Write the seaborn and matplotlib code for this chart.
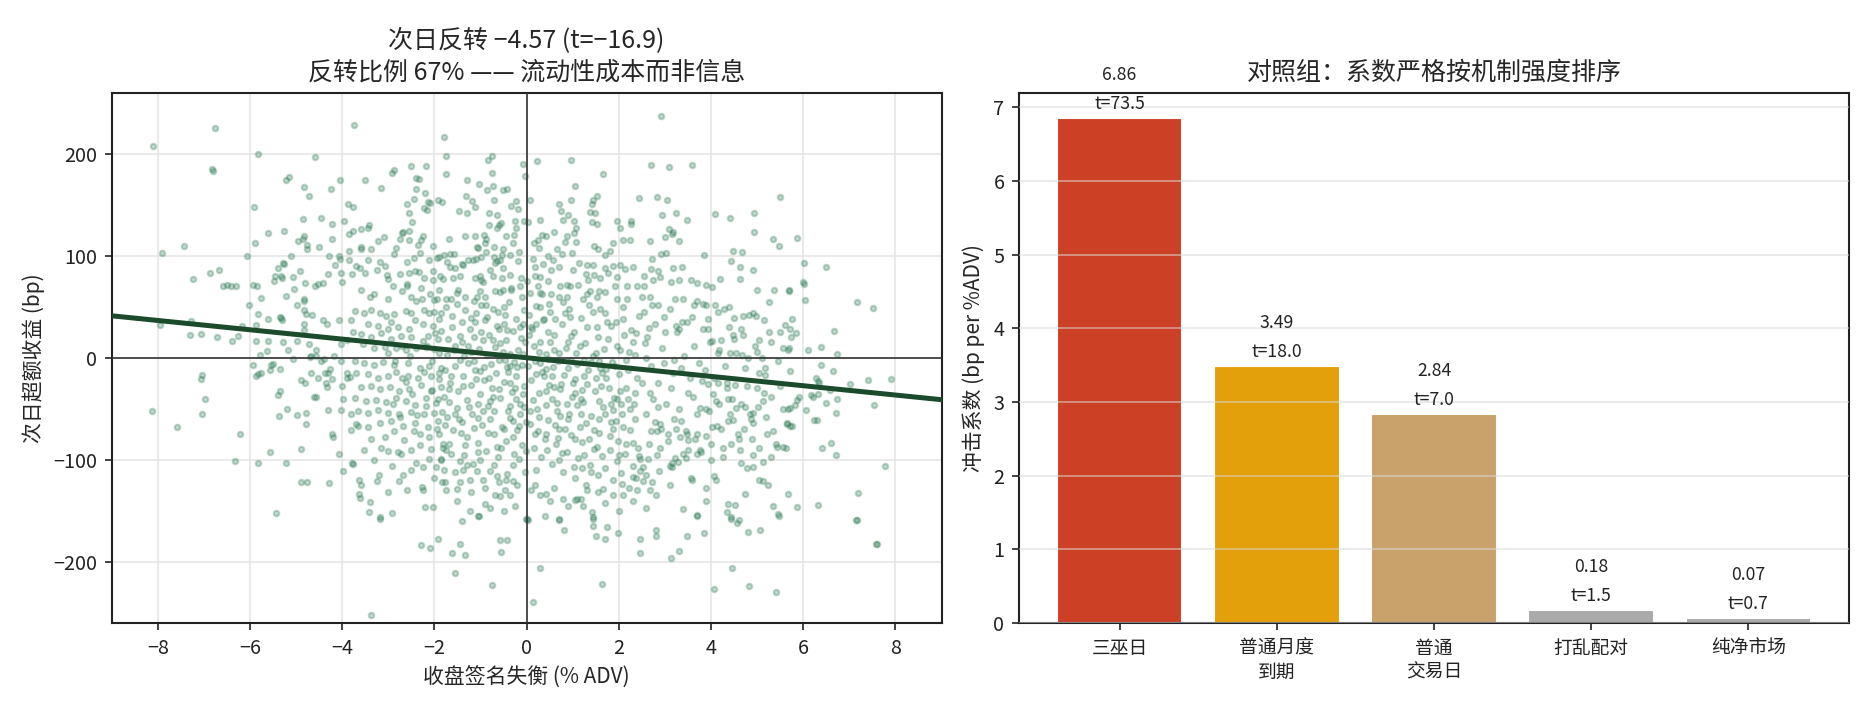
import matplotlib
matplotlib.use("Agg")
import matplotlib.pyplot as plt
import seaborn as sns
import numpy as np
import pandas as pd

# ---------------- data ----------------
# scatter: closing signed imbalance (% ADV) vs next-day excess return (bp)
scatter_points = [
    # upper-left region
    (-8.11,208),(-6.76,225),(-6.83,185),(-6.81,183),(-5.83,200),(-3.75,228),(-4.58,197),(-7.91,103),(-7.44,110),
    (-7.24,77),(-6.87,83),(-6.68,86),(-6.59,70),(-6.50,71),(-6.41,70),(-6.31,70),(-5.94,71),(-5.85,70),(-5.92,148),
    (-5.90,112),(-6.07,100),(-5.61,122),(-5.27,124),(-5.22,174),(-5.15,177),(-4.82,167),(-4.72,159),(-4.25,165),
    (-4.05,174),(-3.51,174),(-3.15,166),(-2.92,181),(-2.88,184),(-2.51,188),(-2.19,188),(-2.40,176),(-2.34,175),
    (-2.39,165),(-2.20,161),(-2.60,151),(-2.45,156),(-3.88,151),(-3.77,148),(-4.85,136),(-4.46,137),(-4.23,131),
    (-3.97,134),(-3.42,130),(-3.59,126),(-3.44,127),(-3.77,124),(-3.86,121),(-4.23,116),(-4.96,114),(-4.86,116),
    (-4.83,119),(-4.76,111),(-4.76,107),(-4.51,109),(-3.86,105),(-3.60,109),(-3.59,107),(-3.38,107),(-3.22,114),
    (-3.10,118),(-2.71,122),(-2.69,123),(-2.55,124),(-2.48,133),(-2.55,142),(-2.14,153),(-2.10,152),(-2.22,147),
    (-2.17,145),(-1.93,155),(-1.84,153),(-2.25,119),(-2.30,115),(-2.35,111),(-2.55,115),(-2.75,116),(-2.83,108),
    (-2.87,102),(-2.60,94),(-2.45,98),(-2.32,103),(-2.12,96),(-2.02,110),(-1.95,98),(-1.89,99),(-2.03,85),
    (-2.04,76),(-2.22,78),(-2.42,85),(-2.34,84),(-2.56,83),(-2.74,82),(-3.03,81),(-3.01,77),(-3.08,90),(-3.17,94),
    (-3.24,86),(-3.44,96),(-3.50,83),(-3.61,88),(-3.70,90),(-3.79,82),(-4.02,83),(-4.01,74),(-3.85,96),(-4.05,97),
    (-4.07,100),(-4.28,100),(-4.15,91),(-4.31,82),(-4.41,73),(-4.53,72),(-4.59,70),(-4.80,73),(-4.91,85),
    (-5.06,79),(-5.29,93),(-5.27,92),(-5.40,88),(-5.45,80),(-5.32,80),(-5.47,75),(-5.31,78),(-5.11,100),
    (-5.05,67),(-5.22,61),(-4.82,58),(-5.75,59),
    (-3.3,62),(-3.0,58),(-2.7,65),(-2.5,60),(-2.3,68),(-2.1,62),(-1.9,66),(-2.9,70),(-3.6,66),(-2.6,72),(-2.0,57),(-2.4,56),
    # upper-right region
    (2.91,237),(-1.79,216),(-1.75,198),(-1.75,180),(-0.83,194),(-0.74,198),(-0.74,181),(-0.07,190),(-0.04,178),
    (0.23,193),(0.97,194),(1.66,180),(2.70,189),(3.09,187),(3.59,189),(1.05,168),(5.50,158),(-1.29,174),
    (-1.03,170),(-0.72,168),(-0.85,164),(-0.51,164),(-0.42,165),(-1.32,159),(-1.19,154),(-1.11,148),(-0.70,155),
    (-0.34,149),(-0.22,154),(-0.18,146),(-1.46,144),(-1.29,142),(-0.81,142),(-0.64,140),(-0.56,132),(-0.82,130),
    (-0.25,134),(-0.05,134),(-0.64,127),(-0.59,130),(-0.23,127),(0.04,133),(0.07,155),(0.71,151),(0.96,155),
    (1.45,155),(1.52,159),(1.42,151),(2.43,157),(2.83,158),(3.05,155),(2.93,140),(3.25,142),(3.47,135),
    (4.09,141),(4.42,137),(4.93,142),(4.93,123),(5.35,116),(5.47,110),(4.48,105),(4.68,104),(4.43,95),
    (4.63,89),(4.90,86),(4.20,77),(4.63,77),(5.00,66),(5.37,66),(5.68,66),(3.85,101),(3.37,89),(3.18,88),
    (3.30,114),(3.01,118),(3.08,126),(3.18,123),(3.15,121),(2.68,114),(2.92,102),(3.02,103),(2.73,97),
    (2.86,85),(2.70,87),(2.55,80),(2.75,76),(2.89,79),(3.13,74),(3.30,76),(3.56,76),(3.69,73),(3.90,71),
    (4.01,69),(2.24,115),(2.08,115),(2.03,127),(2.26,134),(2.27,131),(1.95,134),(1.88,112),(1.47,110),
    (1.55,107),(1.71,101),(1.37,143),(1.49,142),(1.52,131),(1.42,133),(1.08,127),(1.03,122),(0.90,140),
    (0.80,135),(1.03,134),(0.74,144),(0.60,123),(0.30,135),(0.87,119),(1.07,113),(0.83,113),(0.65,107),
    (0.77,102),(0.34,120),(0.42,119),(0.25,115),(0.17,112),(0.27,108),(0.46,100),(0.58,96),(1.14,93),
    (1.30,91),(1.45,91),(1.71,88),(1.88,90),(2.02,91),(2.14,87),(2.30,89),(0.70,89),(0.36,92),(0.14,97),
    (0.18,89),(1.01,86),(1.28,82),(1.47,81),(1.76,83),(1.59,78),(1.97,79),(1.92,70),(2.17,70),(2.39,70),
    (2.55,70),(1.58,65),(1.37,65),(1.12,71),(0.87,71),(0.72,70),(0.47,75),(0.29,79),(0.24,70),(0.07,63),
    (0.29,63),(0.52,62),(0.70,60),(0.87,60),(1.23,58),(1.52,60),(1.95,58),(2.17,58),(2.68,60),(3.22,58),
    (3.40,58),(3.69,56),(-1.68,116),(-1.34,119),(-1.11,119),(-0.92,120),(-0.87,116),(-0.90,112),(-1.08,109),
    (-1.06,108),(-0.70,109),(-0.51,107),(-0.45,119),(-0.27,120),(-0.30,112),(-0.16,104),(-0.36,101),
    (-0.54,101),(-0.70,99),(-0.87,104),(-0.98,99),(-1.10,97),(-1.17,96),(-1.27,96),(-1.37,91),(-1.57,102),
    (-1.66,102),(-1.79,101),(-1.72,94),(-1.66,89),(-1.55,88),(-1.45,80),(-1.59,78),(-1.81,77),(-1.01,80),
    (-1.12,78),(-0.95,74),(-0.80,86),(-0.69,93),(-0.58,96),(-0.64,95),(-0.72,80),(-0.54,78),(-0.36,81),
    (-0.12,78),(-0.14,70),(-0.33,66),(-0.51,66),(-0.69,65),(-0.90,60),(-1.08,60),(-1.34,60),(-1.52,63),
    (-1.74,58),(-0.11,60),
    # lower-left region
    (-8.13,-52),(-7.59,-68),(-7.96,32),(-7.28,36),(-7.29,22),(-7.07,23),(-6.71,20),(-6.39,16),(-6.25,21),
    (-6.17,31),(-7.05,-17),(-7.07,-21),(-6.98,-40),(-7.05,-55),(-6.22,-75),(-6.33,-101),(-5.83,-103),
    (-5.57,-92),(-5.43,-152),(-5.22,-103),(-4.89,-89),(-4.89,-122),(-4.76,-122),(-4.29,-123),(-4.22,-75),
    (-4.20,-78),(-4.07,-94),(-3.99,-111),(-3.79,-103),(-3.76,-104),(-3.64,-120),(-3.59,-125),(-3.63,-134),
    (-3.62,-137),(-3.40,-141),(-3.42,-151),(-3.17,-156),(-3.25,-121),(-3.00,-132),(-2.92,-152),(-2.76,-121),
    (-2.68,-115),(-2.92,-106),(-2.73,-94),(-2.40,-103),(-2.24,-107),(-2.27,-127),(-2.25,-130),(-2.20,-146),
    (-2.04,-146),(-2.12,-99),(-1.97,-107),(-1.85,-99),(-1.83,-122),(-5.19,-50),(-4.99,-56),(-4.78,-54),
    (-4.78,-65),(-5.37,-57),(-5.39,-37),(-5.35,-33),(-5.86,-18),(-5.83,-16),(-5.76,-15),(-5.93,-7),
    (-5.54,-7),(-5.51,-6),(-5.56,-12),(-5.35,-11),(-5.79,3),(-5.62,7),(-5.60,16),(-5.87,16),(-5.86,32),
    (-6.03,52),(-5.82,43),(-5.32,39),(-5.35,40),(-5.29,15),(-5.17,8),(-4.98,16),(-5.07,-1),(-4.83,33),
    (-4.83,27),(-4.71,13),(-4.56,8),(-4.67,2),(-4.69,1),(-4.57,2),(-4.89,-22),(-4.80,-25),(-4.67,-15),
    (-4.53,-20),(-4.38,-15),(-4.36,-25),(-4.33,-29),(-4.62,-38),(-4.56,-38),(-4.31,-51),(-4.02,-51),
    (-3.98,-40),(-3.81,-71),(-3.81,-55),(-3.66,-67),(-4.01,-28),(-3.90,-20),(-3.83,-19),(-3.90,-15),
    (-4.27,-11),(-4.23,-21),(-4.31,-15),(-4.46,-3),(-4.40,-1),(-4.18,2),(-4.02,-3),(-4.02,13),(-3.90,17),
    (-3.76,25),(-4.06,37),(-3.81,37),(-4.33,33),(-4.42,37),(-4.66,42),(-4.78,43),(-4.82,47),(-4.98,52),
    (-4.82,56),(-5.31,37),(-5.61,38),
    (-3.73,46),(-3.52,44),(-3.37,47),(-3.19,44),(-3.05,41),(-2.87,43),(-2.61,46),(-2.50,44),(-2.22,47),
    (-2.00,45),(-1.85,44),(-3.44,33),(-3.23,31),(-3.01,28),(-2.79,30),(-2.54,28),(-2.25,33),(-2.03,31),
    (-1.85,26),(-3.59,23),(-3.37,20),(-3.16,24),(-2.94,18),(-2.72,21),(-2.50,20),(-2.25,16),(-2.14,21),
    (-1.93,18),(-3.55,13),(-3.30,10),(-3.08,11),(-2.83,10),(-2.61,8),(-2.40,10),(-2.18,11),(-2.00,9),
    (-3.73,-3),(-3.52,-5),(-3.30,-7),(-3.12,-4),(-2.87,-7),(-2.58,-5),(-2.32,-10),(-2.11,-8),(-1.85,-10),
    (-3.70,-15),(-3.44,-16),(-3.23,-20),(-3.01,-18),(-2.83,-14),(-2.58,-18),(-2.36,-20),(-2.07,-18),
    (-1.89,-21),(-3.59,-29),(-3.37,-28),(-3.19,-31),(-2.97,-29),(-2.76,-33),(-2.54,-31),(-2.29,-27),
    (-2.07,-33),(-1.85,-29),(-3.73,-39),(-3.48,-42),(-3.26,-41),(-3.05,-43),(-2.83,-39),(-2.61,-42),
    (-2.43,-46),(-2.18,-39),(-1.96,-44),(-3.66,-52),(-3.44,-54),(-3.23,-51),(-3.01,-54),(-2.76,-55),
    (-2.50,-53),(-2.22,-55),(-2.00,-54),(-3.70,-65),(-3.44,-68),(-3.19,-64),(-2.94,-62),(-2.69,-67),
    (-2.43,-64),(-2.14,-68),(-1.93,-62),(-3.37,-80),(-3.08,-78),(-2.87,-72),(-2.65,-81),(-2.32,-75),
    (-2.11,-78),(-1.89,-75),(-3.52,-90),(-3.16,-88),(-3.01,-91),(-2.79,-92),(-2.50,-90),(-2.07,-89),(-1.82,-88),
    # lower-right region
    (5.26,55),(4.92,44),(4.97,41),(5.15,37),(4.69,41),(4.50,39),(4.66,28),(4.29,48),(4.09,52),(3.90,52),
    (3.83,53),(3.62,52),(5.50,25),(5.57,10),(5.68,10),(5.03,17),(4.48,22),(4.22,17),(4.01,16),(3.94,28),
    (3.47,35),(3.25,31),(3.31,28),(4.14,5),(4.41,5),(4.68,3),(4.81,0),(4.99,6),(5.18,-10),(5.17,-17),
    (5.71,-49),(5.64,-64),(5.31,-38),(5.13,-42),(5.02,-48),(4.92,-54),(4.84,-55),(4.74,-48),(4.54,-49),
    (4.37,-40),(4.18,-45),(3.96,-52),(3.76,-49),(4.52,-27),(4.34,-30),(4.05,-36),(4.14,-25),(3.94,-26),
    (3.80,-23),(4.92,-64),(4.71,-70),(4.48,-61),(4.37,-62),(4.12,-67),(3.90,-77),(3.69,-75),(5.42,-87),
    (5.57,-87),(5.21,-75),(5.03,-88),(4.88,-80),(4.61,-80),(4.43,-85),(4.27,-97),(5.30,-97),(5.13,-102),
    (4.92,-107),(4.79,-108),(4.66,-103),(5.04,-120),(5.12,-121),(5.24,-125),(4.74,-134),(4.37,-143),
    (4.52,-144),(4.34,-151),(4.43,-156),(4.61,-159),(5.35,-145),(5.46,-153),(4.06,-116),(4.10,-120),
    (3.88,-128),(3.69,-154),(3.56,-118),(3.59,-120),(3.99,-85),(3.76,-90),(3.69,-94),(3.46,-98),(3.29,-102),
    (3.11,-106),(3.15,-103),(3.40,-94),(3.51,-81),(3.47,-75),(3.33,-78),(3.25,-70),(3.07,-75),(2.91,-70),
    (2.82,-72),(2.88,-111),(3.15,-107),(2.71,-122),(2.53,-121),(2.68,-130),(2.60,-147),(2.53,-107),
    (2.46,-111),(2.31,-117),(2.39,-130),(2.06,-124),(1.88,-135),(1.66,-129),(1.55,-132),(1.23,-145),
    (1.45,-156),(1.41,-151),(1.30,-130),(1.18,-138),(1.05,-139),(0.80,-138),(0.70,-158),(0.51,-140),
    (0.43,-134),(0.29,-135),(0.18,-125),(-0.04,-112),(0.01,-158),(-1.05,-155),(-1.23,-150),(-0.90,-143),
    (-0.80,-147),(-0.69,-135),(-0.58,-136),(-0.36,-135),(-0.25,-145),(-0.47,-130),(-0.29,-121),(-0.43,-114),
    (-0.65,-116),(-0.80,-111),(-0.94,-120),(-1.23,-120),(-1.45,-122),(-1.52,-129),(-1.74,-130),(-1.77,-122),
    (-1.55,-112),(-1.37,-110),(-1.08,-111),(-1.16,-104),(-1.45,-101),(-1.63,-94),(-1.81,-85),(-1.74,-90),
    # bottom strip
    (-3.17,-158),(-2.28,-184),(-2.10,-186),(-1.93,-178),(-1.45,-183),(-1.61,-191),(-1.34,-193),(-0.58,-179),
    (-0.43,-179),(-0.56,-190),(-1.56,-211),(-0.74,-223),(-3.38,-252),(-1.04,-155),(-0.02,-158),
    (0.04,-159),(0.71,-159),(0.82,-169),(1.45,-158),(1.45,-165),(1.75,-166),(1.51,-175),(1.71,-178),
    (1.99,-172),(2.45,-178),(2.47,-191),(2.80,-169),(2.80,-175),(3.14,-196),(3.30,-189),(3.47,-175),
    (3.69,-155),(3.84,-172),(4.43,-158),(4.56,-162),(4.80,-171),(5.06,-169),(5.47,-155),(7.17,-159),
    (7.60,-183),(0.28,-206),(1.64,-222),(0.14,-239),(4.45,-206),(4.06,-227),(4.82,-224),(5.41,-230),
    # right edge
    (5.87,117),(6.02,93),(6.50,89),(6.00,74),(6.01,72),(5.70,65),(6.04,57),(7.17,55),(7.51,49),(5.76,38),
    (5.71,28),(5.85,24),(5.73,20),(6.67,26),(5.67,8),(6.11,8),(6.39,11),(6.73,4),(6.39,-7),(5.71,-13),
    (6.65,-13),(6.28,-20),(6.32,-23),(6.34,-25),(7.01,-26),(7.40,-22),(7.91,-21),(6.57,-32),(6.17,-37),
    (6.22,-38),(6.32,-36),(5.91,-38),(5.87,-41),(5.81,-46),(5.67,-50),(6.73,-40),(6.50,-44),(7.53,-46),
    (6.06,-51),(6.70,-54),(6.24,-61),(6.30,-61),(5.64,-65),(5.71,-67),(5.76,-67),(5.62,-88),(6.41,-88),
    (6.60,-84),(6.71,-95),(7.77,-106),(5.67,-134),(5.87,-146),(6.32,-144),(7.19,-133),(7.14,-159),(7.58,-183),
    # dense centre
    (-1.75,50),(-1.62,41),(-1.5,53),(-1.41,35),(-1.33,47),(-1.22,28),(-1.1,44),(-0.98,52),(-0.9,37),
    (-0.81,22),(-0.72,48),(-0.65,31),(-0.58,14),(-0.47,42),(-0.38,55),(-0.3,26),(-0.22,38),(-0.12,19),
    (-0.05,47),(-1.7,18),(-1.58,8),(-1.45,21),(-1.36,2),(-1.27,12),(-1.15,-3),(-1.03,9),(-0.95,17),
    (-0.86,3),(-0.77,-6),(-0.69,11),(-0.6,-2),(-0.52,6),(-0.43,-9),(-0.35,4),(-0.27,-4),(-0.18,8),
    (-0.09,-7),(-0.03,15),(-1.78,-12),(-1.66,-25),(-1.55,-8),(-1.48,-33),(-1.38,-18),(-1.3,-41),(-1.2,-27),
    (-1.12,-12),(-1.01,-36),(-0.92,-22),(-0.84,-47),(-0.75,-30),(-0.66,-15),(-0.57,-39),(-0.49,-24),
    (-0.4,-52),(-0.32,-34),(-0.24,-18),(-0.15,-45),(-0.06,-28),(-1.73,-58),(-1.6,-71),(-1.52,-49),
    (-1.4,-63),(-1.29,-78),(-1.18,-55),(-1.06,-84),(-0.97,-66),(-0.88,-91),(-0.79,-60),(-0.7,-75),
    (-0.62,-97),(-0.53,-68),(-0.45,-82),(-0.36,-59),(-0.28,-94),(-0.2,-71),(-0.11,-86),(-0.02,-63),
    (-1.69,-85),(-1.35,-95),(-1.0,-100),(-0.55,-88),(-0.16,-99),(-1.62,30),(-1.25,-48),(-0.99,25),
    (-0.83,-74),(-0.6,28),(-0.44,17),(-0.3,-62),(-0.2,-9),(-0.08,33),(-1.45,-2),(-1.12,35),(-0.72,-38),
    (-0.37,-25),(-0.14,-55),(-0.5,50),(-1.9,5),(-1.92,-40),(-1.95,-70),(-1.9,38),
    (0.05,42),(0.12,28),(0.2,51),(0.28,15),(0.35,37),(0.43,4),(0.51,45),(0.6,22),(0.68,-3),(0.76,33),
    (0.85,10),(0.93,48),(1.02,25),(1.1,-6),(1.18,39),(1.27,14),(1.35,52),(1.43,2),(1.52,30),(1.6,-10),
    (1.69,44),(1.77,18),(1.85,-4),(1.94,35),(2.02,8),(2.1,50),(2.19,-12),(2.27,27),(2.36,3),(2.44,41),
    (0.03,-8),(0.1,-22),(0.18,-3),(0.26,-35),(0.33,-14),(0.41,-46),(0.49,-27),(0.57,-9),(0.65,-52),
    (0.73,-31),(0.82,-17),(0.9,-60),(0.98,-38),(1.06,-21),(1.15,-68),(1.23,-43),(1.31,-26),(1.4,-57),
    (1.48,-33),(1.57,-74),(1.65,-48),(1.73,-20),(1.82,-63),(1.9,-39),(1.98,-82),(2.07,-55),(2.15,-30),
    (2.24,-71),(2.32,-45),(2.41,-88),(0.08,-65),(0.16,-88),(0.24,-72),(0.31,-97),(0.39,-80),(0.47,-61),
    (0.55,-104),(0.63,-85),(0.71,-70),(0.8,-112),(0.88,-92),(0.96,-76),(1.04,-118),(1.12,-98),(1.21,-83),
    (1.29,-125),(1.37,-105),(1.46,-89),(1.54,-115),(1.63,-96),(1.71,-108),(1.8,-90),(1.88,-120),(1.96,-101),
    (2.05,-113),(2.13,-94),(2.22,-128),(2.3,-106),(2.38,-118),(2.47,-99),(0.15,12),(0.38,-18),(0.62,38),
    (0.88,-45),(1.08,5),(1.33,-12),(1.55,20),(1.78,-30),(2.0,-16),(0.22,-50),(0.47,25),(0.72,-57),
    (0.97,-2),(1.2,-32),(1.45,45),(1.7,-55),(1.95,12),(2.2,-40),(0.3,50),(0.55,-40),(0.8,55),(1.05,-80),
    (1.3,30),(1.58,-3),(1.88,-70),(2.12,22),(2.35,-60),(0.1,30),(0.43,-75),(0.7,5),(0.95,40),(1.25,-95),
    (1.5,-20),(1.75,35),(2.05,-45),(2.3,15),
    (2.55,45),(2.62,20),(2.7,-8),(2.78,33),(2.86,-25),(2.94,10),(3.02,-45),(3.1,48),(3.18,-15),(3.26,25),
    (3.34,-62),(3.42,2),(3.5,-35),(3.58,40),(3.66,-80),(3.74,-5),(3.82,28),(3.9,-50),(3.98,15),(4.06,-20),
    (4.14,45),(4.22,-70),(4.3,-8),(4.38,30),(4.46,-40),(4.54,5),(4.62,-90),(4.7,22),(4.78,-28),(4.86,-60),
    (4.95,12),(5.05,-15),(5.15,-35),(5.25,25),(5.35,-72),(5.45,-3),(5.55,-50),(2.58,-55),(2.66,-85),
    (2.74,-40),(2.82,-95),(2.9,-65),(2.98,-5),(3.06,-82),(3.14,-30),(3.22,-98),(3.3,-50),(3.38,35),
    (3.46,-72),(3.54,-20),(3.62,12),(3.7,-55),(3.78,-92),(3.86,-12),(3.94,38),(4.02,-68),(4.1,-42),
    (4.18,8),(4.26,-88),(4.34,-25),(4.42,-55),(4.5,18),(4.58,-75),(4.66,-45),(4.74,-10),(4.82,42),
    (4.9,-95),(5.0,-30),(5.1,0),(5.2,-58),(5.3,15),(5.4,-85),(5.5,-28),(5.6,32),(2.6,0),(2.85,52),
    (3.2,-2),(3.6,-38),(4.0,-100),(4.4,50),(2.7,-72),(3.0,25),(3.35,-10),
    (-1.5,-140),(-1.2,-132),(-0.9,-128),(-0.5,-150),(-0.2,-125),(0.2,-110),(0.6,-128),(0.9,-145),
    (1.1,-138),(1.7,-142),(2.0,-150),(2.3,-140),(2.8,-135),(3.1,-125),(3.4,-148),(3.9,-140),(-1.8,-110),
    (-1.4,-160),(-0.7,-105),(0.4,-155),(2.6,-115),(-2.6,-130),(-3.2,-115),
    # second pass over the dense centre
    (-2.85,-3),(-2.62,-24),(-2.41,37),(-2.19,-47),(-1.98,24),(-1.77,-66),(-1.56,12),(-1.34,-86),(-1.13,56),
    (-0.92,-9),(-0.71,-52),(-0.5,33),(-0.29,-78),(-0.08,4),(0.13,-41),(0.34,62),(0.55,-18),(0.76,-93),
    (0.97,21),(1.18,-55),(1.39,-4),(1.6,48),(1.81,-77),(2.02,-33),(2.23,6),(2.44,-96),(2.65,29),(2.86,-48),
    (-2.95,35),(-2.74,-58),(-2.53,2),(-2.32,-86),(-2.11,44),(-1.9,-15),(-1.69,-43),(-1.48,66),(-1.27,-5),
    (-1.06,-59),(-0.85,40),(-0.64,-87),(-0.43,27),(-0.22,-40),(-0.01,-91),(0.2,33),(0.41,-11),(0.62,-66),
    (0.83,44),(1.04,-35),(1.25,-2),(1.46,-71),(1.67,9),(1.88,-51),(2.09,38),(2.3,-84),(2.51,-25),(2.72,52),
    (-2.7,12),(-2.48,-36),(-2.27,58),(-2.06,-3),(-1.84,-53),(-1.63,-18),(-1.42,-74),(-1.21,39),(-1.0,-13),
    (-0.79,-42),(-0.58,64),(-0.37,-8),(-0.16,-67),(0.05,22),(0.26,-58),(0.47,-1),(0.68,-79),(0.89,15),
    (1.1,-46),(1.31,62),(1.52,-87),(1.73,-11),(1.94,-62),(2.15,-2),(2.36,-35),(2.57,14),(2.78,-63),(2.99,40),
    (-2.22,-14),(-1.95,58),(-1.68,-31),(-1.41,15),(-1.14,-69),(-0.87,52),(-0.6,-31),(-0.33,68),(-0.06,-48),
    (0.21,-16),(0.48,53),(0.75,-26),(1.02,-107),(1.29,-64),(1.56,-42),(1.83,31),(2.1,-68),(2.37,24),(2.64,-99),
    (-1.88,80),(-1.4,92),(-0.98,76),(-0.52,88),(-0.18,95),(0.19,80),(0.53,86),(0.99,103),(1.34,76),(1.8,105),
    (-2.5,-110),(-2.0,-118),(-1.3,-105),(-0.6,-122),(0.1,-130),(0.7,-100),(1.4,-112),(2.1,-135),(2.9,-88),
    (-1.1,-21),(-0.35,-47),(0.42,-33),(1.15,12),(1.62,-28),(-0.46,-2),(0.9,-10),(-1.55,-55),(0.3,-5),(0.6,8),
    # third pass over the dense centre
    (-2.38,-56),(-2.05,-32),(-1.72,3),(-1.39,-28),(-1.06,-45),(-0.73,17),(-0.4,-14),(-0.07,-36),(0.26,6),
    (0.59,-29),(0.92,-55),(1.25,-18),(1.58,-60),(1.91,-8),(2.24,-50),(-2.6,70),(-2.15,12),(-1.8,-38),
    (-1.47,-60),(-1.14,20),(-0.81,-20),(-0.48,-70),(-0.15,30),(0.18,-75),(0.51,15),(0.84,-70),(1.17,-40),
    (1.5,5),(1.83,-45),(2.16,-85),(-2.9,-45),(-2.45,-72),(-1.65,58),(-1.2,6),(-0.95,-52),(-0.62,45),
    (-0.25,-30),(0.07,-52),(0.38,38),(0.66,-44),(1.0,-25),(1.36,-80),(1.64,-15),(2.0,-95),(2.4,-20),
    (-1.86,-100),(-1.05,-92),(-0.3,-105),(0.45,-90),(1.2,-108),(1.95,-40),(2.68,-35),(3.2,-60),(3.5,-90),
    (-3.3,-100),(-3.0,5),(-2.7,-20),(-3.4,60),(-1.0,65),(0.0,75),(0.95,70),(1.7,64),(2.5,60),(-0.45,-120),
]
imbalance = [p[0] for p in scatter_points]
next_ret = [p[1] for p in scatter_points]

reg_slope = -4.57
reg_intercept = 0.0

categories = ["三巫日", "普通月度\n到期", "普通\n交易日", "打乱配对", "纯净市场"]
coef = [6.86, 3.49, 2.84, 0.18, 0.07]
tstats = [73.5, 18.0, 7.0, 1.5, 0.7]
bar_colors = ["#cc4125", "#e3a00a", "#c8a16b", "#aaaaaa", "#aaaaaa"]

# ---------------- style ----------------
sns.set_style("white")
FONT = ["Noto Sans CJK SC", "DejaVu Sans"]
plt.rcParams["font.family"] = FONT
plt.rcParams["axes.unicode_minus"] = True
plt.rcParams["axes.edgecolor"] = "#222222"
plt.rcParams["axes.linewidth"] = 1.0
plt.rcParams["xtick.color"] = "#222222"
plt.rcParams["ytick.color"] = "#222222"
plt.rcParams["xtick.bottom"] = True
plt.rcParams["ytick.left"] = True

W, H, DPI = 1870, 710, 150
fig = plt.figure(figsize=(W / DPI, H / DPI), dpi=DPI)
ax1 = fig.add_axes([111.6 / W, 1 - 623 / H, 830 / W, 530.5 / H])
ax2 = fig.add_axes([1019 / W, 1 - 623 / H, 830 / W, 530.5 / H])

# ---------------- left: scatter ----------------
df = pd.DataFrame({"x": imbalance, "y": next_ret})
ax1.grid(True, color="#e6e6e6", lw=0.8)
ax1.set_axisbelow(True)
sns.scatterplot(data=df, x="x", y="y", ax=ax1, s=7, color="#2f7d57",
                edgecolor="#2f7d57", linewidth=1.0, alpha=0.3, zorder=2)
ax1.set_xlim(-9, 9)
ax1.set_ylim(-260, 260)
ax1.axhline(0, color="#333333", lw=0.8, zorder=3)
ax1.axvline(0, color="#333333", lw=0.8, zorder=3)
xl = np.array(ax1.get_xlim())
ax1.plot(xl, reg_intercept + reg_slope * xl, color="#1b4a2c", lw=2.4, zorder=4)
ax1.set_xticks([-8, -6, -4, -2, 0, 2, 4, 6, 8])
ax1.set_yticks([-200, -100, 0, 100, 200])
ax1.tick_params(labelsize=9.5, length=3.5, width=0.8)
ax1.set_xlabel("收盘签名失衡 (% ADV)", fontsize=10)
ax1.set_ylabel("次日超额收益 (bp)", fontsize=10)
ax1.set_title("次日反转 −4.57 (t=−16.9)\n反转比例 67% —— 流动性成本而非信息", fontsize=12,
              linespacing=1.3)

# ---------------- right: bars ----------------
bdf = pd.DataFrame({"cat": categories, "coef": coef})
sns.barplot(data=bdf, x="cat", y="coef", hue="cat", palette=bar_colors,
            legend=False, ax=ax2, width=0.8, saturation=1, zorder=2)
ax2.set_xlim(-0.64, 4.64)
ax2.set_ylim(0, max(coef) * 1.05)
ax2.yaxis.grid(True, color="#d9d9d9", lw=0.8, alpha=0.6, zorder=5)
ax2.set_axisbelow(False)
for i, (v, t) in enumerate(zip(coef, tstats)):
    ax2.text(i, v + 0.07, f"{v:.2f}\nt={t:.1f}", ha="center", va="bottom",
             fontsize=8.5, color="#222222", clip_on=False, zorder=6, linespacing=1.75)
ax2.tick_params(axis="y", labelsize=9.5, length=3.5, width=0.8)
ax2.tick_params(axis="x", labelsize=9, length=3.5, width=0.8)
ax2.set_xlabel("")
ax2.set_ylabel("冲击系数 (bp per %ADV)", fontsize=10)
ax2.set_title("对照组：系数严格按机制强度排序", fontsize=12)

fig.savefig("out.png", dpi=DPI)
